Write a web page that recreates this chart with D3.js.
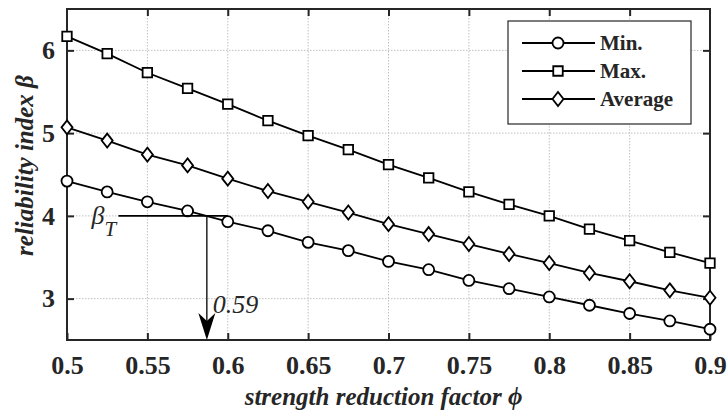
<!DOCTYPE html>
<html>
<head>
<meta charset="utf-8">
<script src="https://cdn.jsdelivr.net/npm/d3@7"></script>
<style>
  body { margin: 0; background: #fff; }
  svg text { font-family: "Liberation Serif", "Times New Roman", serif; }
</style>
</head>
<body>
<div id="chart"></div>
<script>
// strength reduction factor phi
var phi = [0.5, 0.525, 0.55, 0.575, 0.6, 0.625, 0.65, 0.675, 0.7, 0.725, 0.75, 0.775, 0.8, 0.825, 0.85, 0.875, 0.9];
var betaMin = [4.42, 4.29, 4.17, 4.06, 3.93, 3.82, 3.68, 3.58, 3.45, 3.35, 3.22, 3.12, 3.02, 2.92, 2.82, 2.73, 2.63];
var betaMax = [6.17, 5.96, 5.73, 5.54, 5.35, 5.15, 4.97, 4.80, 4.62, 4.46, 4.29, 4.14, 4.00, 3.84, 3.70, 3.56, 3.43];
var betaAvg = [5.07, 4.91, 4.74, 4.61, 4.45, 4.30, 4.17, 4.04, 3.90, 3.78, 3.66, 3.54, 3.43, 3.31, 3.21, 3.10, 3.01];
var xTicks = [0.5, 0.55, 0.6, 0.65, 0.7, 0.75, 0.8, 0.85, 0.9];
var yTicks = [3, 4, 5, 6];
var seriesNames = ["Min.", "Max.", "Average"];
var betaT = 4, phiT = 0.587, betaLineStart = 0.532, betaLineEnd = 0.6;

var margin = {top: 9, right: 18, bottom: 74, left: 67},
    width = 728 - margin.left - margin.right,
    height = 414 - margin.top - margin.bottom;

var svg = d3.select("#chart")
  .append("svg")
    .attr("width", 728)
    .attr("height", 414)
  .append("g")
    .attr("transform", "translate(" + margin.left + "," + margin.top + ")");

var x = d3.scaleLinear().domain([0.5, 0.9]).range([0, width]);
var y = d3.scaleLinear().domain([2.5, 6.5]).range([height, 0]);

// grid
svg.append("g").selectAll("line")
  .data(xTicks.slice(1, -1))
  .enter().append("line")
    .attr("x1", d => x(d)).attr("x2", d => x(d))
    .attr("y1", 0).attr("y2", height)
    .attr("stroke", "#c0c0c0").attr("stroke-dasharray", "1.5,1.5");
svg.append("g").selectAll("line")
  .data(yTicks)
  .enter().append("line")
    .attr("x1", 0).attr("x2", width)
    .attr("y1", d => y(d)).attr("y2", d => y(d))
    .attr("stroke", "#c0c0c0").attr("stroke-dasharray", "1.5,1.5");

// axes (ticks inside, box)
function styleAxis(g) {
  g.select(".domain").remove();
  g.selectAll(".tick line").attr("stroke", "#262626").attr("stroke-width", 2);
  g.selectAll("text").attr("font-size", 26).attr("font-weight", "bold").attr("fill", "#262626")
    .attr("font-family", "Liberation Serif");
}
svg.append("g")
  .attr("transform", "translate(0," + height + ")")
  .call(d3.axisBottom(x).tickValues(xTicks).tickSizeInner(-7).tickSizeOuter(0).tickPadding(16).tickFormat(d => d))
  .call(styleAxis);
svg.append("g")
  .call(d3.axisTop(x).tickValues(xTicks.slice(1, -1)).tickSizeInner(-7).tickSizeOuter(0).tickFormat(""))
  .call(styleAxis);
svg.append("g")
  .call(d3.axisLeft(y).tickValues(yTicks).tickSizeInner(-7).tickSizeOuter(0).tickPadding(12).tickFormat(d => d))
  .call(styleAxis);
svg.append("g")
  .attr("transform", "translate(" + width + ",0)")
  .call(d3.axisRight(y).tickValues(yTicks).tickSizeInner(-7).tickSizeOuter(0).tickFormat(""))
  .call(styleAxis);

svg.append("rect")
  .attr("width", width).attr("height", height)
  .attr("fill", "none").attr("stroke", "#262626").attr("stroke-width", 2);

// markers
var diamond = { draw: function(ctx, size) {
  ctx.moveTo(0, -7); ctx.lineTo(5.5, 0); ctx.lineTo(0, 7); ctx.lineTo(-5.5, 0); ctx.closePath();
}};
var symbols = [
  d3.symbol().type(d3.symbolCircle).size(95),
  d3.symbol().type(d3.symbolSquare).size(90),
  d3.symbol().type(diamond)
];

var line = d3.line().x((d, i) => x(phi[i])).y(d => y(d));
var series = [betaMin, betaMax, betaAvg];

series.forEach(function(s, k) {
  svg.append("path")
    .datum(s)
    .attr("d", line)
    .attr("fill", "none").attr("stroke", "#000").attr("stroke-width", 1.8);
});
series.forEach(function(s, k) {
  svg.append("g").selectAll("path")
    .data(s)
    .enter().append("path")
      .attr("transform", (d, i) => "translate(" + x(phi[i]) + "," + y(d) + ")")
      .attr("d", symbols[k])
      .attr("fill", "#fff").attr("stroke", "#000").attr("stroke-width", 1.8);
});

// beta_T annotation
svg.append("line")
  .attr("x1", x(betaLineStart)).attr("x2", x(betaLineEnd))
  .attr("y1", y(betaT)).attr("y2", y(betaT))
  .attr("stroke", "#000").attr("stroke-width", 1.8);
svg.append("line")
  .attr("x1", x(phiT)).attr("x2", x(phiT))
  .attr("y1", y(betaT)).attr("y2", y(2.5) - 10)
  .attr("stroke", "#000").attr("stroke-width", 1.3);
var ax = x(phiT), ay = y(2.5);
svg.append("path")
  .attr("d", "M" + ax + "," + ay + " L" + (ax - 8.5) + "," + (ay - 27) + " L" + ax + "," + (ay - 19) + " L" + (ax + 8.5) + "," + (ay - 27) + " Z")
  .attr("fill", "#000");

var bt = svg.append("text")
  .attr("x", x(betaLineStart) - 27).attr("y", y(betaT) + 8)
  .attr("font-size", 26).attr("font-style", "italic").attr("fill", "#262626");
bt.append("tspan").text("β");
bt.append("tspan").attr("dy", 12).attr("font-size", 21).text("T");

svg.append("text")
  .attr("x", x(phiT) + 6).attr("y", y(3) + 14)
  .attr("font-size", 26).attr("font-style", "italic").attr("fill", "#262626")
  .text(phiT.toFixed(2));

// axis titles
svg.append("text")
  .attr("x", width / 2 - 5).attr("y", height + 65)
  .attr("text-anchor", "middle")
  .attr("font-size", 25).attr("font-weight", "bold").attr("font-style", "italic").attr("fill", "#262626")
  .text("strength reduction factor ϕ");
svg.append("text")
  .attr("transform", "translate(" + (-34) + "," + (height / 2 - 9) + ") rotate(-90)")
  .attr("text-anchor", "middle")
  .attr("font-size", 25).attr("font-weight", "bold").attr("font-style", "italic").attr("fill", "#262626")
  .text("reliability index β");

// legend
var legend = svg.append("g").attr("transform", "translate(" + (width - 202) + ",12)");
legend.append("rect")
  .attr("width", 183).attr("height", 103)
  .attr("fill", "#fff").attr("stroke", "#262626").attr("stroke-width", 1.2);
seriesNames.forEach(function(name, k) {
  var row = legend.append("g").attr("transform", "translate(0," + (22 + k * 28) + ")");
  row.append("line").attr("x1", 14).attr("x2", 87).attr("stroke", "#000").attr("stroke-width", 1.8);
  row.append("path")
    .attr("transform", "translate(50,0)")
    .attr("d", symbols[k])
    .attr("fill", "#fff").attr("stroke", "#000").attr("stroke-width", 1.8);
  row.append("text")
    .attr("x", 92).attr("y", 7)
    .attr("font-size", 21).attr("font-weight", "bold").attr("fill", "#262626")
    .text(name);
});
</script>
</body>
</html>
